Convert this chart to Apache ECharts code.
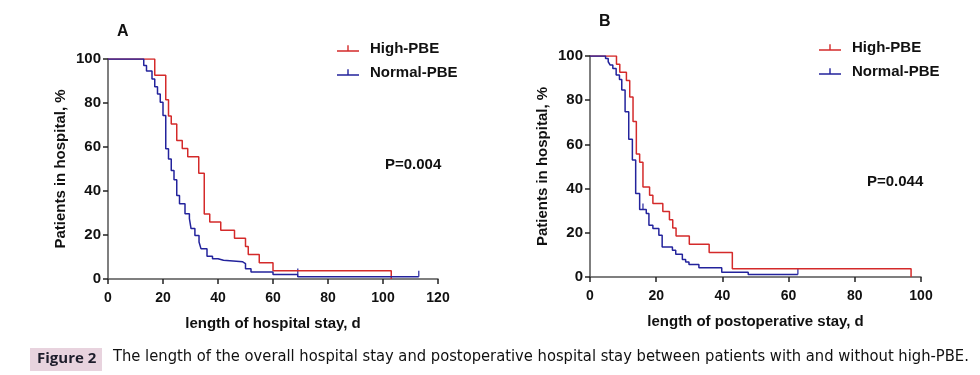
<!DOCTYPE html>
<html>
<head>
<meta charset="utf-8">
<script src="https://cdn.jsdelivr.net/npm/echarts@6/dist/echarts.min.js"></script>
<style>
  html, body { margin: 0; padding: 0; background: #fff; }
  #chart { width: 980px; height: 375px; }
</style>
</head>
<body>
<div id="chart"></div>
<script>
// panel A - overall hospital stay
const aHighDays = [0, 17, 21, 22, 23, 25, 27, 29, 33, 35, 37, 41, 46, 50, 51, 55, 60, 103];
const aHighPct = [100, 92.6, 81.5, 74.1, 70.4, 63.0, 59.3, 55.6, 48.1, 29.6, 25.9, 22.2, 18.5, 14.8, 11.1, 7.4, 3.7, 0];
const aNormDays = [0, 13, 14, 16, 17, 18, 19, 20, 21, 22, 23, 24, 25, 26, 28, 29.6, 30.2, 31.6, 33.1, 33.8, 36, 38, 40, 42, 49, 50, 52, 60, 69, 113];
const aNormPct = [100, 97.0, 94.5, 90.9, 87.4, 84.1, 80.3, 74.3, 59.2, 54.6, 49.3, 45.1, 38.0, 34.2, 29.7, 27.4, 22.9, 19.8, 16.8, 13.8, 10.3, 9.2, 8.5, 7.8, 7.0, 4.7, 3.2, 2.0, 1.0, 1.0];
const aNormCensor = [[69, 2.0], [113, 1.0]];

// panel B - postoperative stay
const bHighDays = [0, 8, 9, 11, 12, 13, 14, 15, 16, 18, 19, 22, 24, 25, 26, 30, 36, 43, 97];
const bHighPct = [100, 96.3, 92.6, 88.9, 81.5, 70.4, 55.6, 51.9, 40.7, 37.0, 33.3, 29.6, 25.9, 22.2, 18.5, 14.8, 11.1, 3.7, 0];
const bNormDays = [0, 4.7, 5.5, 6.1, 6.9, 7.9, 8.9, 9.6, 10.6, 11.7, 12.8, 13.8, 15.0, 17.0, 17.8, 19.0, 20.8, 21.8, 24.9, 25.9, 27.9, 28.9, 29.9, 32.9, 39.8, 47.8, 62.8];
const bNormPct = [100, 98.9, 97.4, 95.9, 94.4, 91.4, 89.4, 84.6, 74.8, 62.3, 52.9, 37.8, 30.5, 28.7, 23.4, 21.9, 18.9, 13.6, 12.1, 10.3, 7.9, 6.8, 5.6, 4.2, 2.1, 1.1, 1.1];
const bNormCensor = [[16, 30.5], [62.8, 1.1]];

const yTicks = [0, 20, 40, 60, 80, 100];
const groups = ['High-PBE', 'Normal-PBE'];
const colors = ['#d42a2a', '#23239c'];

const tickPath = 'path://M0,0h1v6h-1z';
const legendIcon = 'path://M0,5h22v1.4h-22z M10.3,0h1.4v5h-1.4z';
const FONT = 'Liberation Sans';

function pairs(days, pct) {
    return days.map((d, i) => [d, pct[i]]);
}

function xAxisOf(idx, max, name) {
    return {
        type: 'value', gridIndex: idx, min: 0, max: max, interval: 20,
        name: name, nameLocation: 'middle', nameGap: 37,
        nameTextStyle: { fontFamily: FONT, fontWeight: 'bold', fontSize: 15, color: '#111' },
        axisLine: { lineStyle: { color: '#555', width: 1.5 } },
        axisTick: { length: 5, lineStyle: { color: '#222', width: 1.5 } },
        axisLabel: { fontFamily: FONT, fontWeight: 'bold', fontSize: 14, color: '#111', margin: 12 },
        splitLine: { show: false }
    };
}

function yAxisOf(idx) {
    return {
        type: 'value', gridIndex: idx, min: yTicks[0], max: yTicks[yTicks.length - 1], interval: 20,
        name: 'Patients in hospital, %', nameLocation: 'middle', nameGap: 40, nameRotate: 90,
        nameTextStyle: { fontFamily: FONT, fontWeight: 'bold', fontSize: 15, color: '#111' },
        axisLine: { show: true, lineStyle: { color: '#555', width: 1.5 } },
        axisTick: { show: true, length: 5, lineStyle: { color: '#222', width: 1.5 } },
        axisLabel: { fontFamily: FONT, fontWeight: 'bold', fontSize: 15, color: '#111', margin: 7 },
        splitLine: { show: false }
    };
}

function kmLine(name, idx, data) {
    return {
        type: 'line', name: name, xAxisIndex: idx, yAxisIndex: idx,
        step: 'end', showSymbol: false, symbol: 'none', data: data,
        color: colors[groups.indexOf(name)],
        lineStyle: { width: 1.5 }, animation: false
    };
}

function censor(name, idx, data) {
    return {
        type: 'scatter', name: name, xAxisIndex: idx, yAxisIndex: idx,
        symbol: tickPath, symbolSize: [1.5, 6], symbolOffset: [0, -3],
        color: colors[groups.indexOf(name)], data: data, animation: false
    };
}

function legendAt(left, top) {
    return {
        left: left, top: top, orient: 'vertical', itemGap: 9,
        itemWidth: 22, itemHeight: 7,
        data: groups.map((g) => ({ name: g, icon: legendIcon })),
        textStyle: { fontFamily: FONT, fontWeight: 'bold', fontSize: 15, color: '#111', padding: [0, 0, 0, 6] }
    };
}

const chart = echarts.init(document.getElementById('chart'));
const option = {
    backgroundColor: '#fff',
    title: [
        { text: 'A', left: 112, top: 19, textStyle: { fontFamily: FONT, fontWeight: 'bold', fontSize: 16, color: '#111' } },
        { text: 'B', left: 594, top: 9, textStyle: { fontFamily: FONT, fontWeight: 'bold', fontSize: 16, color: '#111' } }
    ],
    legend: [legendAt(332, 36), legendAt(814, 35)],
    grid: [
        { left: 108, top: 59, width: 330, height: 220 },
        { left: 590, top: 56, width: 331, height: 221 }
    ],
    xAxis: [
        xAxisOf(0, 120, 'length of hospital stay, d'),
        xAxisOf(1, 100, 'length of postoperative stay, d')
    ],
    yAxis: [yAxisOf(0), yAxisOf(1)],
    series: [
        kmLine('High-PBE', 0, pairs(aHighDays, aHighPct)),
        kmLine('Normal-PBE', 0, pairs(aNormDays, aNormPct)),
        censor('Normal-PBE', 0, aNormCensor),
        kmLine('High-PBE', 1, pairs(bHighDays, bHighPct)),
        kmLine('Normal-PBE', 1, pairs(bNormDays, bNormPct)),
        censor('Normal-PBE', 1, bNormCensor)
    ],
    graphic: [
        { type: 'text', left: 385, top: 157, style: { text: 'P=0.004', font: 'bold 15px Liberation Sans', fill: '#111' } },
        { type: 'text', left: 867, top: 174, style: { text: 'P=0.044', font: 'bold 15px Liberation Sans', fill: '#111' } },
        { type: 'rect', left: 30, top: 348, shape: { width: 72, height: 23 }, style: { fill: '#e8d3de' } },
        { type: 'text', left: 37, top: 351, style: { text: 'Figure 2', font: 'bold 15px Open Sans', fill: '#1d1d2b' } },
        { type: 'text', left: 113, top: 349, style: { text: 'The length of the overall hospital stay and postoperative hospital stay between patients with and without high-PBE.', font: '16.4px DejaVu Sans Condensed, Liberation Sans', fill: '#111' } }
    ]
};
chart.setOption(option);
</script>
</body>
</html>
